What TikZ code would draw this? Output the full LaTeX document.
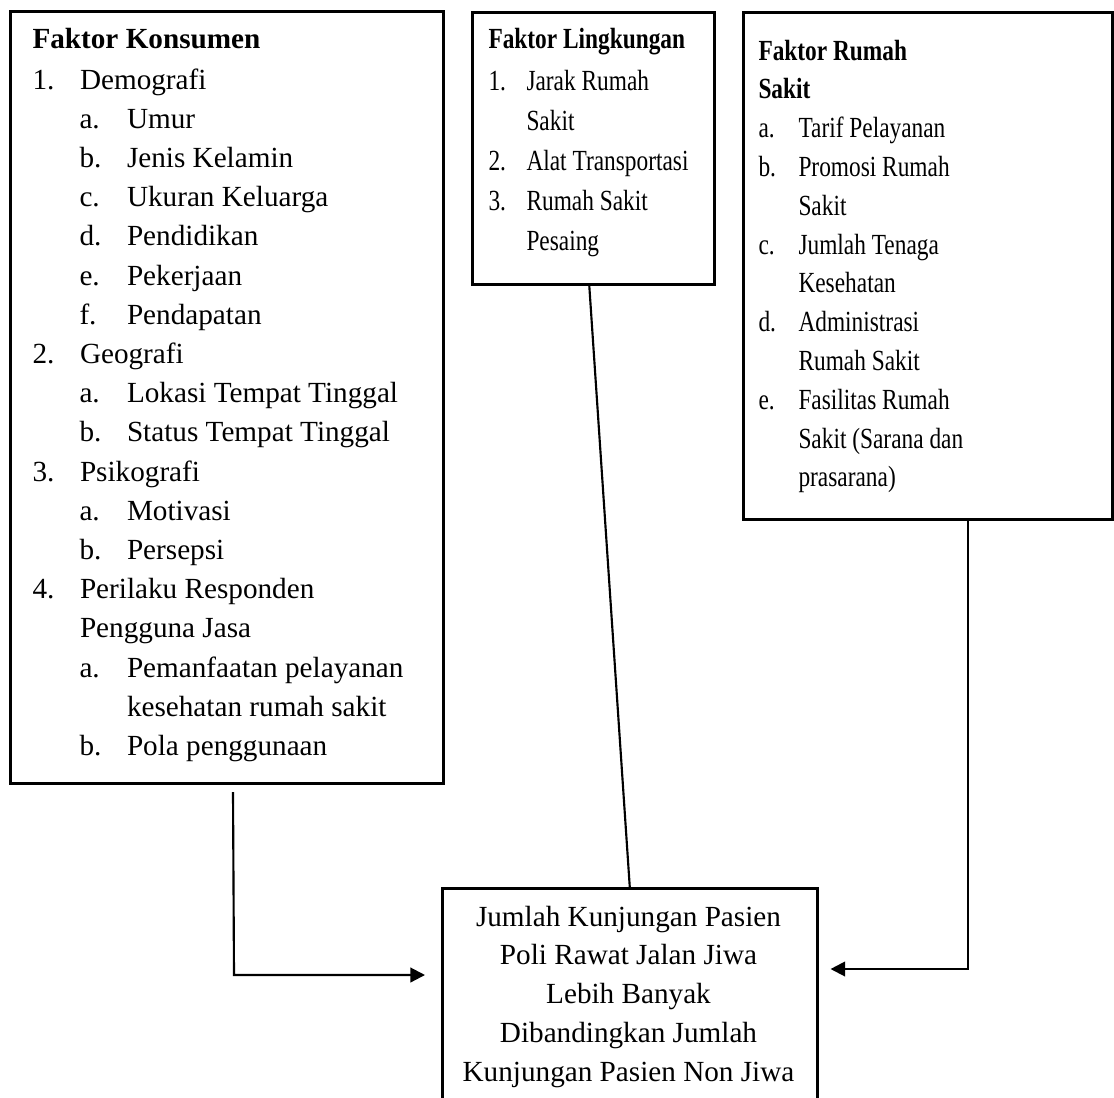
\documentclass[tikz,border=0pt]{standalone}
\usepackage{fontspec}
\setmainfont{Liberation Serif}
\newfontfamily\sempit{Liberation Serif}[FakeStretch=0.8]
\usetikzlibrary{arrows.meta}

\tikzset{every picture/.style={line width=0.75pt}}
\tikzset{
  kotak/.style={draw, line width=1.9pt, anchor=north west, inner sep=0pt},
  teks/.style={anchor=base west, inner sep=0pt, font=\fontsize{21.9}{26}\selectfont},
  teksn/.style={teks, font={\sempit\fontsize{21.9}{26}\selectfont}},
  garis/.style={line width=1.6pt},
  panah/.style={garis, -{Triangle[length=11pt,width=11pt]}}
}

\begin{document}
\begin{tikzpicture}[x=0.75pt,y=0.75pt,yscale=-1,xscale=1]
\useasboundingbox (0,0) rectangle (1114,1097);

%Shape: Rectangle [konsumen]
\node[kotak, minimum width=324.75pt, minimum height=579pt] (konsumen) at (9,10) {};
%Shape: Rectangle [lingkungan]
\node[kotak, minimum width=181.5pt, minimum height=204pt] (lingkungan) at (471,11) {};
%Shape: Rectangle [rumahsakit]
\node[kotak, minimum width=276.75pt, minimum height=380.25pt] (rumahsakit) at (742,11) {};
%Shape: Rectangle [hasil]
\node[kotak, minimum width=281.25pt, minimum height=180pt] (hasil) at (441,887) {};

% Text Node: Faktor Konsumen
\node[teks] (kjudul) at (32,48) {\textbf{Faktor Konsumen}};
\foreach \lx/\lb/\tx [count=\i] in {32/1./Demografi, 79/a./Umur, 79/b./Jenis Kelamin,
    79/c./Ukuran Keluarga, 79/d./Pendidikan, 79/e./Pekerjaan, 79/f./Pendapatan,
    32/2./Geografi, 79/a./Lokasi Tempat Tinggal, 79/b./Status Tempat Tinggal,
    32/3./Psikografi, 79/a./Motivasi, 79/b./Persepsi,
    32/4./Perilaku Responden, 32//Pengguna Jasa,
    79/a./Pemanfaatan pelayanan, 79//kesehatan rumah sakit, 79/b./Pola penggunaan}
{
  \node[teks] (kl\i) at (\lx,{89+39.2*(\i-1)}) {\lb};
  \node[teks] (kt\i) at ({\lx+47.5},{89+39.2*(\i-1)}) {\tx};
}

% Text Node: Faktor Lingkungan
\node[teksn] (ljudul) at (488,48) {\textbf{Faktor Lingkungan}};
\foreach \lb/\tx [count=\i] in {1./Jarak Rumah, /Sakit, 2./Alat Transportasi,
    3./Rumah Sakit, /Pesaing}
{
  \node[teksn] (ll\i) at (488,{90+40*(\i-1)}) {\lb};
  \node[teksn] (lt\i) at (526,{90+40*(\i-1)}) {\tx};
}

% Text Node: Faktor Rumah Sakit
\node[teksn] (rjudul1) at (758,60) {\textbf{Faktor Rumah}};
\node[teksn] (rjudul2) at (758,98.8) {\textbf{Sakit}};
\foreach \lb/\tx [count=\i] in {a./Tarif Pelayanan, b./Promosi Rumah, /Sakit,
    c./Jumlah Tenaga, /Kesehatan, d./Administrasi, /Rumah Sakit,
    e./Fasilitas Rumah, /{Sakit (Sarana dan}, /prasarana)}
{
  \node[teksn] (rl\i) at (758,{137.6+38.8*(\i-1)}) {\lb};
  \node[teksn] (rt\i) at (798,{137.6+38.8*(\i-1)}) {\tx};
}

% Text Node: hasil
\foreach \tx [count=\i] in {Jumlah Kunjungan Pasien, Poli Rawat Jalan Jiwa,
    Lebih Banyak, Dibandingkan Jumlah, Kunjungan Pasien Non Jiwa}
  \node[teks, anchor=base] (ht\i) at (628.5,{926+38.8*(\i-1)}) {\tx};

%Connectors
\coordinate (k1) at (233,792);
\coordinate (k2) at (234,975);
\coordinate (r1) at (968,518);
\coordinate (r2) at (968,969);
\draw[panah, shorten >=12pt] (k1) -- (k2) -- (hasil.west |- k2);
\draw[garis] ([xshift=-3pt]lingkungan.south) -- (hasil.north);
\draw[panah, shorten >=9pt] (r1) -- (r2) -- (hasil.east |- r2);

\end{tikzpicture}
\end{document}
